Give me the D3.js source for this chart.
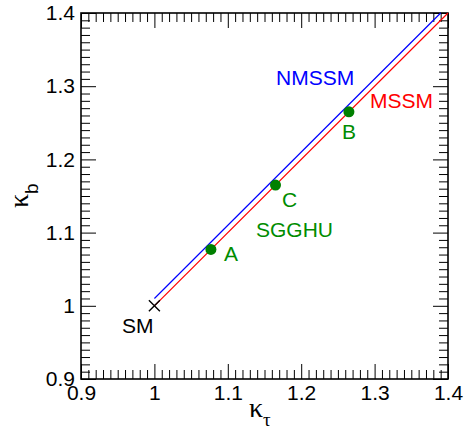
<!DOCTYPE html>
<html><head><meta charset="utf-8">
<script src="https://cdn.jsdelivr.net/npm/d3@7"></script>
<style>body{margin:0;background:#fff}svg{display:block}</style>
</head><body>
<script>
const majorTicks = [0.9, 1.0, 1.1, 1.2, 1.3, 1.4];
const tickLabels = ["0.9", "1", "1.1", "1.2", "1.3", "1.4"];
const mssmKtau = [1.0, 1.4];
const mssmKb = [1.0, 1.4];
const nmssmKtau = [1.0, 1.39];
const nmssmKb = [1.01, 1.4];
const pointNames = ["A", "C", "B"];
const pointKtau = [1.077, 1.165, 1.265];
const pointKb = [1.077, 1.165, 1.265];
const smKtau = [1.0];
const smKb = [1.0];

const W = 464, H = 435;
const svg = d3.select("body").append("svg").attr("width", W).attr("height", H);
const x = d3.scaleLinear().domain([0.9, 1.4]).range([81, 448]);
const y = d3.scaleLinear().domain([0.9, 1.4]).range([379, 13]);

const minor = d3.range(90, 141).map(v => v / 100).filter(v => Math.round(v * 100) % 10 !== 0);
const font = "'Liberation Sans', Arial, sans-serif";

function styleAxis(g) {
  g.select(".domain").remove();
  g.selectAll("line").attr("stroke", "#000").attr("stroke-width", 1);
  g.selectAll("text").attr("font-family", font).attr("font-size", 21).attr("fill", "#000");
}

// bottom
svg.append("g").attr("transform", `translate(0,${y(0.9)})`)
  .call(d3.axisBottom(x).tickValues(majorTicks).tickSizeInner(-15).tickSizeOuter(0).tickPadding(6)
    .tickFormat((d, i) => tickLabels[i])).call(styleAxis);
svg.append("g").attr("transform", `translate(0,${y(0.9)})`)
  .call(d3.axisBottom(x).tickValues(minor).tickSizeInner(-9).tickSizeOuter(0).tickFormat("")).call(styleAxis);
// top
svg.append("g").attr("transform", `translate(0,${y(1.4)})`)
  .call(d3.axisTop(x).tickValues(majorTicks).tickSizeInner(-15).tickSizeOuter(0).tickFormat("")).call(styleAxis);
svg.append("g").attr("transform", `translate(0,${y(1.4)})`)
  .call(d3.axisTop(x).tickValues(minor).tickSizeInner(-9).tickSizeOuter(0).tickFormat("")).call(styleAxis);
// left
svg.append("g").attr("transform", `translate(${x(0.9)},0)`)
  .call(d3.axisLeft(y).tickValues(majorTicks).tickSizeInner(-15).tickSizeOuter(0).tickPadding(6)
    .tickFormat((d, i) => tickLabels[i])).call(styleAxis);
svg.append("g").attr("transform", `translate(${x(0.9)},0)`)
  .call(d3.axisLeft(y).tickValues(minor).tickSizeInner(-9).tickSizeOuter(0).tickFormat("")).call(styleAxis);
// right
svg.append("g").attr("transform", `translate(${x(1.4)},0)`)
  .call(d3.axisRight(y).tickValues(majorTicks).tickSizeInner(-15).tickSizeOuter(0).tickFormat("")).call(styleAxis);
svg.append("g").attr("transform", `translate(${x(1.4)},0)`)
  .call(d3.axisRight(y).tickValues(minor).tickSizeInner(-9).tickSizeOuter(0).tickFormat("")).call(styleAxis);

// frame
svg.append("rect").attr("x", x(0.9)).attr("y", y(1.4))
  .attr("width", x(1.4) - x(0.9)).attr("height", y(0.9) - y(1.4))
  .attr("fill", "none").attr("stroke", "#000").attr("stroke-width", 1.6);

const line = d3.line().x(d => x(d[0])).y(d => y(d[1]));
svg.append("path").datum(nmssmKtau.map((v, i) => [v, nmssmKb[i]])).attr("d", line)
  .attr("stroke", "#0000ff").attr("stroke-width", 1.2).attr("fill", "none");
svg.append("path").datum(mssmKtau.map((v, i) => [v, mssmKb[i]])).attr("d", line)
  .attr("stroke", "#ff0000").attr("stroke-width", 1.2).attr("fill", "none");

// SM marker
const s = 5.5;
smKtau.forEach((v, i) => {
  const cx = x(v), cy = y(smKb[i]);
  svg.append("path").attr("d", `M${cx - s},${cy - s}L${cx + s},${cy + s}M${cx - s},${cy + s}L${cx + s},${cy - s}`)
    .attr("stroke", "#000").attr("stroke-width", 1.4);
});

// points
svg.selectAll("circle.pt").data(pointNames).enter().append("circle")
  .attr("cx", (d, i) => x(pointKtau[i])).attr("cy", (d, i) => y(pointKb[i]))
  .attr("r", 5.5).attr("fill", "#008000");

const green = "#008c00";
function label(t, px, py, color) {
  svg.append("text").attr("x", px).attr("y", py).attr("font-family", font)
    .attr("font-size", 21).attr("fill", color).text(t);
}
label("NMSSM", 276, 85, "#0000ff");
label("MSSM", 370, 108, "#ff0000");
label("B", 342, 139, green);
label("C", 282, 207, green);
label("SGGHU", 256, 237, green);
label("A", 224, 261, green);
label("SM", 122, 333, "#000");

// axis titles
const serif = "'Liberation Serif', 'Times New Roman', serif";
const xt = svg.append("text").attr("x", 249).attr("y", 417).attr("font-family", serif).attr("font-size", 28);
xt.append("tspan").text("κ");
xt.append("tspan").attr("dy", 9).attr("font-size", 19).text("τ");
const yt = svg.append("text").attr("transform", "translate(28,208) rotate(-90)").attr("font-family", serif).attr("font-size", 28);
yt.append("tspan").text("κ");
yt.append("tspan").attr("dy", 10).attr("font-size", 19).attr("font-family", font).text("b");
</script>
</body></html>
